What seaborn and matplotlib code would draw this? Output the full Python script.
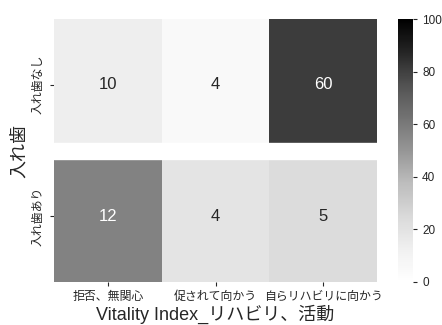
import numpy as np
import pandas as pd
import matplotlib
matplotlib.use("Agg")
import matplotlib.pyplot as plt
import seaborn as sns

rows = ["入れ歯なし", "入れ歯あり"]
cols = ["拒否、無関心", "促されて向かう", "自らリハビリに向かう"]
counts_nashi = [10, 4, 60]
counts_ari = [12, 4, 5]

counts = pd.DataFrame([counts_nashi, counts_ari], index=rows, columns=cols)
pct = counts.div(counts.sum(axis=1), axis=0) * 100

sns.set_style("white")
plt.rcParams['font.family'] = ['Liberation Sans', 'Noto Sans CJK JP', 'DejaVu Sans']

fig = plt.figure(figsize=(4.42, 3.25), dpi=100)
ax = fig.add_axes([54/442, 1 - 282/325, (377-54)/442, (282-19)/325])
cax = fig.add_axes([398/442, 1 - 282/325, 15/442, (282-19)/325])

sns.heatmap(pct, ax=ax, cbar_ax=cax, cmap="Greys", vmin=0, vmax=100,
            annot=counts, fmt="d", annot_kws={"fontsize": 12})
ax.axhline(1, color="white", lw=12.5)

ax.set_xlabel("Vitality Index_リハビリ、活動", fontsize=13, labelpad=1)
ax.set_ylabel("入れ歯", fontsize=13, labelpad=4)
ax.tick_params(axis="x", labelsize=8.6, length=3, width=0.8, bottom=True, rotation=0)
ax.tick_params(axis="y", labelsize=8.6, length=3, width=0.8, left=True)
for t in ax.get_yticklabels():
    t.set_rotation(90)
    t.set_va("center")
cax.tick_params(labelsize=8.5, length=3, width=0.8, right=True)
cax.set_yticks([0, 20, 40, 60, 80, 100])
for s in cax.spines.values():
    s.set_visible(False)

fig.savefig("out.png", dpi=100)
